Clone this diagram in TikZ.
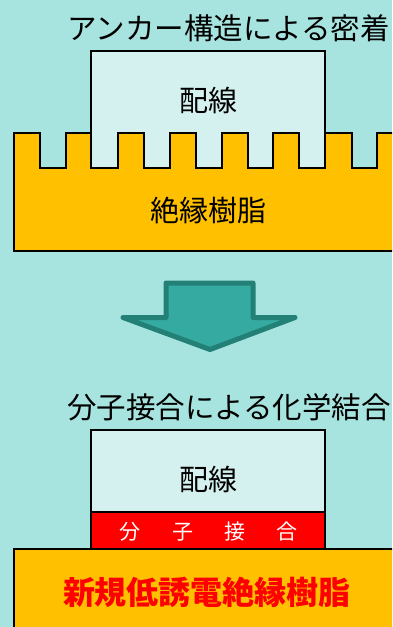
\documentclass[tikz,border=0pt]{standalone}
\usepackage{fontspec}
\newfontfamily\jp{Noto Sans CJK JP}
\definecolor{bgc}{RGB}{167,228,223}
\definecolor{wirec}{RGB}{213,241,239}
\definecolor{resinc}{RGB}{255,192,0}
\definecolor{arrowfill}{RGB}{53,170,160}
\definecolor{arrowline}{RGB}{35,128,118}
\begin{document}
\begin{tikzpicture}[x=1pt,y=-1pt,
  layer/.style={draw=black,line width=2pt},
  lbl/.style={font=\jp\fontsize{29}{32}\selectfont,inner sep=0pt},
  title/.style={font=\jp\fontsize{29.5}{32}\selectfont,inner sep=0pt,anchor=west},
  mol/.style={font=\jp\fontsize{21}{24}\selectfont,text=white,inner sep=0pt}]
\useasboundingbox (0,0) rectangle (392,627);
\clip (0,0) rectangle (392,627);
\fill[bgc] (0,0) rectangle (392,627);
% ---- top: anchor structure
\node[title] (t1) at (67,28) {アンカー構造による密着};
\draw[layer,fill=wirec] (91.3,168) -- (91.3,51) -- (325.3,51) -- (325.3,168) -- cycle;
\draw[layer,fill=resinc,line join=miter]
  (400,133) -- (376.7,133) -- (376.7,168) -- (351.7,168) -- (351.7,133)
  -- (325.3,133) -- (325.3,168) -- (299.3,168) -- (299.3,133)
  -- (273.3,133) -- (273.3,168) -- (247.7,168) -- (247.7,133)
  -- (221.7,133) -- (221.7,168) -- (195.7,168) -- (195.7,133)
  -- (170,133) -- (170,168) -- (144,168) -- (144,133)
  -- (118.3,133) -- (118.3,168) -- (91.3,168) -- (91.3,133)
  -- (65.7,133) -- (65.7,168) -- (40,168) -- (40,133)
  -- (14,133) -- (14,251) -- (400,251) -- cycle;
\node[lbl] (w1) at (208,100) {配線};
\node[lbl] (r1) at (208,210) {絶縁樹脂};
% ---- arrow
\draw[fill=arrowfill,draw=arrowline,line width=5pt,line join=round,line cap=round]
  (166,283) -- (253,283) -- (253,317.5) -- (295,317.5) -- (210,349.5)
  -- (123,317.5) -- (166,317.5) -- cycle;
% ---- bottom: molecular bonding
\node[title] (t2) at (67,407) {分子接合による化学結合};
\draw[layer,fill=wirec] (91.3,430) rectangle (325.3,512);
\draw[layer,fill=red] (91.3,512) rectangle (325.3,549);
\draw[layer,fill=resinc] (14,640) -- (14,549) -- (400,549) -- (400,640);
\node[lbl] (w2) at (208,479) {配線};
\node[mol] (m1) at (130,532) {分};
\node[mol] (m2) at (183,532) {子};
\node[mol] (m3) at (235,532) {接};
\node[mol] (m4) at (287,532) {合};
\node[font=\jp\bfseries\fontsize{32}{36}\selectfont,text=red,inner sep=0pt] (r2) at (207,592) {新規低誘電絶縁樹脂};
\end{tikzpicture}
\end{document}
